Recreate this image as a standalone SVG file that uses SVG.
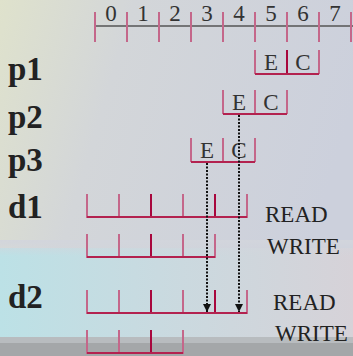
<svg xmlns="http://www.w3.org/2000/svg" width="353" height="356" viewBox="0 0 353 356">
<defs>
<linearGradient id="bgTop" x1="0" y1="0" x2="1" y2="0.3">
<stop offset="0" stop-color="#dfe2cc"/>
<stop offset="0.35" stop-color="#d3d6d9"/>
<stop offset="1" stop-color="#ccd0dc"/>
</linearGradient>
<linearGradient id="bgCyan" x1="0" y1="0" x2="1" y2="0">
<stop offset="0" stop-color="#bce1e6"/>
<stop offset="0.45" stop-color="#c9dae0"/>
<stop offset="1" stop-color="#d6d2d8"/>
</linearGradient>
<linearGradient id="fadeV" x1="0" y1="0" x2="0" y2="1">
<stop offset="0" stop-color="#d2d5dc" stop-opacity="1"/>
<stop offset="1" stop-color="#d2d5dc" stop-opacity="0"/>
</linearGradient>
<marker id="arrow" markerWidth="9" markerHeight="9" refX="8" refY="4.5" orient="auto" markerUnits="userSpaceOnUse" viewBox="0 0 9 9">
<path d="M0,0.5 L8,4.5 L0,8.5 Z" fill="#111"/>
</marker>
<style>
.lbl{font-family:"Liberation Serif","Times New Roman",serif;font-weight:bold;font-size:33px;fill:#222}
.num{font-family:"Liberation Serif","Times New Roman",serif;font-size:23px;fill:#333;text-anchor:middle}
.rw{font-family:"Liberation Serif","Times New Roman",serif;font-size:23px;fill:#222}
.lt{stroke:#c4678a;stroke-width:2;fill:none}
.dk{stroke:#a8073d;stroke-width:2;fill:none}
.base{stroke:#b3224f;stroke-width:2;fill:none}
.axis{stroke:#555;stroke-width:1.5}
.dot{stroke:#111;stroke-width:2;stroke-dasharray:2 1.5;fill:none}
</style>
</defs>
<rect width="353" height="356" fill="url(#bgTop)"/>
<rect y="248" width="353" height="95" fill="url(#bgCyan)"/>
<rect y="240" width="353" height="16" fill="url(#fadeV)"/>
<rect y="337" width="353" height="6" fill="#b8bcbf"/>
<rect y="343" width="353" height="13" fill="#a4a7a9"/>

<g id="timeline">
<line class="axis" x1="95" y1="26" x2="353" y2="26"/>
<path class="lt" d="M95,12V42M127,12V42M159,12V42M191,12V42M223,12V42M255,12V42M287,12V42M319,12V42M351,12V42"/>
<text class="num" x="111" y="21">0</text>
<text class="num" x="143" y="21">1</text>
<text class="num" x="175" y="21">2</text>
<text class="num" x="207" y="21">3</text>
<text class="num" x="239" y="21">4</text>
<text class="num" x="271" y="21">5</text>
<text class="num" x="303" y="21">6</text>
<text class="num" x="335" y="21">7</text>
</g>

<g id="p1">
<text class="lbl" x="8" y="80">p1</text>
<path class="lt" d="M255,50V74M319,50V74"/>
<path class="dk" d="M287,50V74"/>
<line class="base" x1="255" y1="74" x2="319" y2="74"/>
<text class="num" x="271" y="70">E</text>
<text class="num" x="303" y="70">C</text>
</g>

<g id="p2">
<text class="lbl" x="8" y="128">p2</text>
<path class="lt" d="M223,90V114M255,90V114M287,90V114"/>
<line class="base" x1="223" y1="114" x2="287" y2="114"/>
<text class="num" x="239" y="110">E</text>
<text class="num" x="271" y="110">C</text>
</g>

<g id="p3">
<text class="lbl" x="8" y="171">p3</text>
<path class="lt" d="M191,138V162M223,138V162M255,138V162"/>
<line class="base" x1="191" y1="162" x2="255" y2="162"/>
<text class="num" x="207" y="158">E</text>
<text class="num" x="239" y="158">C</text>
</g>

<g id="d1">
<text class="lbl" x="8" y="218">d1</text>
<path class="lt" d="M87,194V218M119,194V218M183,194V218M247,194V218"/>
<path class="dk" d="M151,194V218M215,194V218"/>
<line class="base" x1="87" y1="217" x2="247" y2="217"/>
<text class="rw" x="265" y="222">READ</text>
<path class="lt" d="M87,234V258M119,234V258M183,234V258M215,234V258"/>
<path class="dk" d="M151,234V258"/>
<line class="base" x1="87" y1="257" x2="215" y2="257"/>
<text class="rw" x="267" y="254">WRITE</text>
</g>

<g id="d2">
<text class="lbl" x="8" y="308">d2</text>
<path class="lt" d="M87,290V314M119,290V314M183,290V314M247,290V314"/>
<path class="dk" d="M151,290V314M215,290V314"/>
<line class="base" x1="87" y1="313" x2="247" y2="313"/>
<text class="rw" x="273" y="310">READ</text>
<path class="lt" d="M87,330V354M119,330V354M183,330V354"/>
<path class="dk" d="M151,330V354"/>
<line class="base" x1="87" y1="353" x2="183" y2="353"/>
<text class="rw" x="275" y="341">WRITE</text>
</g>

<g id="connectors">
<line class="dot" x1="239" y1="115" x2="239" y2="312" marker-end="url(#arrow)"/>
<line class="dot" x1="207" y1="163" x2="207" y2="312" marker-end="url(#arrow)"/>
</g>
</svg>
